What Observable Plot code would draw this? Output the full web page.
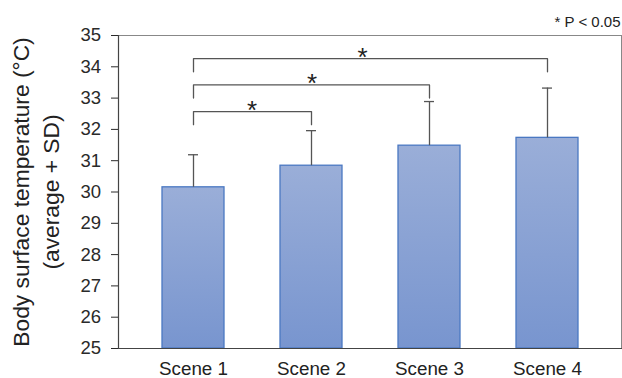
<!DOCTYPE html>
<html><head><meta charset="utf-8">
<script src="https://cdn.jsdelivr.net/npm/d3@7"></script>
<script src="https://cdn.jsdelivr.net/npm/@observablehq/plot@0.6"></script>
<style>body{margin:0;background:#fff}</style>
</head><body><div id="chart"></div>
<script>
// ---- data ----
const scenes = ["Scene 1", "Scene 2", "Scene 3", "Scene 4"];
const means = [30.15, 30.84, 31.48, 31.73];
const sds = [1.04, 1.12, 1.41, 1.59];
const bracketFrom = ["Scene 1", "Scene 1", "Scene 1"];
const bracketTo = ["Scene 2", "Scene 3", "Scene 4"];
const bracketLevel = [32.57, 33.42, 34.26];
const bracketMark = ["*", "*", "*"];
const yTicks = [25, 26, 27, 28, 29, 30, 31, 32, 33, 34, 35];
const note = "* P < 0.05";
const yTitle = ["Body surface temperature (°C)", "(average + SD)"];

// ---- derived tables ----
const bars = scenes.map((s, i) => ({scene: s, mean: means[i], top: means[i] + sds[i]}));
const leg = 0.42;
const bracketPts = bracketFrom.flatMap((f, i) => [
  {id: i, x: f, y: bracketLevel[i] - leg},
  {id: i, x: f, y: bracketLevel[i]},
  {id: i, x: bracketTo[i], y: bracketLevel[i]},
  {id: i, x: bracketTo[i], y: bracketLevel[i] - leg}
]);
const starDx = [58.5, 118.5, 169];
const starMarks = bracketFrom.map((f, i) =>
  Plot.text([{x: f, y: bracketLevel[i], t: bracketMark[i]}],
    {x: "x", y: "y", text: "t", dx: starDx[i], dy: 7, fontSize: 26, lineAnchor: "bottom", fill: "#222"}));

const chart = Plot.plot({
  width: 622, height: 378,
  marginLeft: 118, marginRight: 1, marginTop: 35, marginBottom: 30,
  style: {fontFamily: "'Liberation Sans', Arial, sans-serif", background: "#fff", overflow: "visible"},
  x: {domain: scenes, paddingInner: 0.478, paddingOuter: 0.357, label: null},
  y: {domain: [25, 35], label: null},
  marks: [
    Plot.barY(bars, {x: "scene", y1: 25, y2: "mean", fill: "url(#barGrad)", stroke: "#4a78c2", strokeWidth: 1.3}),
    Plot.ruleX(bars, {x: "scene", y1: "mean", y2: "top", stroke: "#555", strokeWidth: 1.3}),
    Plot.tickY(bars, {x: "scene", y: "top", stroke: "#555", strokeWidth: 1.3, insetLeft: 26, insetRight: 26}),
    Plot.line(bracketPts, {x: "x", y: "y", z: "id", stroke: "#555", strokeWidth: 1.3}),
    ...starMarks,
    Plot.frame({stroke: "#888"}),
    Plot.frame({anchor: "left", stroke: "#444", strokeWidth: 1.2}),
    Plot.frame({anchor: "bottom", stroke: "#444", strokeWidth: 1.2}),
    Plot.axisY({ticks: yTicks, tickSize: 7, tickPadding: 10.5, fontSize: 18.5, color: "#2a2a2a", label: null}),
    Plot.axisX({tickSize: 0, tickPadding: 13.5, fontSize: 18.8, color: "#222", label: null}),
    Plot.text([note], {frameAnchor: "top-right", textAnchor: "end", lineAnchor: "bottom", dx: -1, dy: -9, fontSize: 15, fill: "#222"}),
    Plot.text([yTitle[0]], {frameAnchor: "left", dx: -89.5, rotate: -90, textAnchor: "middle", lineAnchor: "bottom", fontSize: 22.8, fill: "#222"}),
    Plot.text([yTitle[1]], {frameAnchor: "left", dx: -60, rotate: -90, textAnchor: "middle", lineAnchor: "bottom", fontSize: 22.8, fill: "#222"})
  ]
});

const defs = d3.select(chart).insert("defs", ":first-child");
const grad = defs.append("linearGradient").attr("id", "barGrad")
  .attr("x1", 0).attr("y1", 0).attr("x2", 0).attr("y2", 1);
grad.append("stop").attr("offset", "0%").attr("stop-color", "#9aaed8");
grad.append("stop").attr("offset", "100%").attr("stop-color", "#7895cf");

document.getElementById("chart").appendChild(chart);
</script>
</body></html>
